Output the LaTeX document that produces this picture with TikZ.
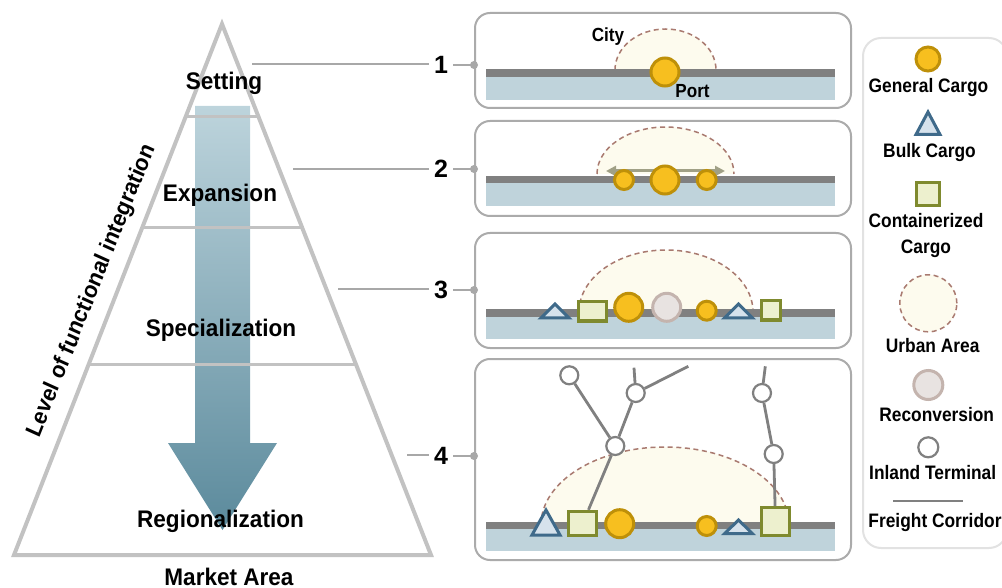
\documentclass[tikz,border=0pt]{standalone}
\usepackage{fontspec}
\setmainfont{Liberation Sans}
\usetikzlibrary{arrows.meta}
\definecolor{pyr}{HTML}{C2C2C2}
\definecolor{lead}{HTML}{A8A8A8}
\definecolor{road}{HTML}{808080}
\definecolor{water}{HTML}{BFD3DB}
\definecolor{domef}{HTML}{FDFBEE}
\definecolor{domed}{HTML}{A97A70}
\definecolor{gcf}{HTML}{F7BF1F}
\definecolor{gcd}{HTML}{BE9009}
\definecolor{tf}{HTML}{D6E2EC}
\definecolor{td}{HTML}{3F6A8A}
\definecolor{sf}{HTML}{EDF0CE}
\definecolor{sd}{HTML}{7F8A2E}
\definecolor{rf}{HTML}{E8E3E1}
\definecolor{rd}{HTML}{C4B4AE}
\definecolor{panel}{HTML}{ABABAB}
\definecolor{legendc}{HTML}{E2E2E2}
\definecolor{arrtop}{HTML}{BDD4DC}
\definecolor{arrbot}{HTML}{5B8A9C}
\tikzset{
  x=1pt,y=-1pt,
  pyrline/.style={draw=pyr,line width=4pt,line join=miter},
  tierline/.style={draw=pyr,line width=3pt},
  leader/.style={draw=lead,line width=2.4pt},
  txtbig/.style={inner sep=0pt,text=black,transform shape,xscale=.94,font=\fontsize{24}{26}\selectfont\bfseries},
  txtleg/.style={inner sep=0pt,text=black,align=center,transform shape,xscale=.89,font=\fontsize{19.5}{26}\selectfont\bfseries},
  txtsmall/.style={inner sep=0pt,text=black,transform shape,xscale=.9,font=\fontsize{19}{20}\selectfont\bfseries},
  num/.style={inner sep=0pt,minimum width=24pt,text=black,font=\fontsize{25}{26}\selectfont\bfseries},
  panelbox/.style={draw=panel,line width=2pt,rounded corners=15pt,fill=white,minimum width=376pt},
  legbox/.style={draw=legendc,line width=2pt,rounded corners=18pt,fill=white},
  waterbox/.style={fill=water,draw=none},
  roadbar/.style={fill=road,draw=none},
  dome/.style={fill=domef,draw=none},
  domeline/.style={draw=domed,line width=1.5pt,dash pattern=on 5pt off 3.6pt},
  gcargo/.style={circle,fill=gcf,draw=gcd,line width=3pt,inner sep=0pt,minimum size=#1},
  rcon/.style={circle,fill=rf,draw=rd,line width=3pt,inner sep=0pt,minimum size=#1},
  term/.style={circle,fill=white,draw=road,line width=2.2pt,inner sep=0pt,minimum size=18pt},
  ccargo/.style={fill=sf,draw=sd,line width=3pt,inner sep=0pt,rectangle},
  bcargo/.style={fill=tf,draw=td,line width=3pt,line join=miter},
  corridor/.style={draw=road,line width=2.8pt},
  spread/.style={draw=lead!80!olive,line width=3pt,{Triangle[length=10pt,width=10pt]}-{Triangle[length=10pt,width=10pt]}}
}
\newcommand{\domefill}[4]{\path[dome] ({#1-#3},{#2}) .. controls ({#1-#3},{#2-.5523*#4}) and ({#1-.5523*#3},{#2-#4}) .. ({#1},{#2-#4}) .. controls ({#1+.5523*#3},{#2-#4}) and ({#1+#3},{#2-.5523*#4}) .. ({#1+#3},{#2}) -- cycle;
\path[domeline] ({#1-#3},{#2}) .. controls ({#1-#3},{#2-.5523*#4}) and ({#1-.5523*#3},{#2-#4}) .. ({#1},{#2-#4}) .. controls ({#1+.5523*#3},{#2-#4}) and ({#1+#3},{#2-.5523*#4}) .. ({#1+#3},{#2});}
\newcommand{\tri}[3]{\path[bcargo] ({#1},{#2}) -- ({#1-14},{#3}) -- ({#1+14},{#3}) -- cycle;}
\begin{document}
\begin{tikzpicture}
\useasboundingbox (0,0) rectangle (1002,588);
% pyramid
\shade[top color=arrtop,bottom color=arrbot]
 (195,106) -- (250,106) -- (250,443) -- (277,443) -- (222.5,530) -- (168,443) -- (195,443) -- cycle;
\draw[pyrline] (222,24) -- (431,555) -- (14,555) -- cycle;
\draw[tierline] (187,117) -- (258,117);
\draw[tierline] (144,228) -- (302,228);
\draw[tierline] (90,364) -- (355,364);
\node[txtbig] (setting) at (224,83) {Setting};
\node[txtbig] (expansion) at (220,195) {Expansion};
\node[txtbig] (special) at (221,330) {Specialization};
\node[txtbig] (regional) at (220.5,521) {Regionalization};
\node[txtbig] (market) at (229,577) {Market Area};
\node[txtbig,rotate=67,xscale=.92] (level) at (92,291) {Level of functional integration};
% panels
\node[panelbox,minimum height=95pt] (p1) at (663,60.5) {};
\node[panelbox,minimum height=95pt] (p2) at (663,168.5) {};
\node[panelbox,minimum height=115pt] (p3) at (663,290.5) {};
\node[panelbox,minimum height=201pt] (p4) at (663,459.5) {};
% leaders
\coordinate (c1) at (252,64);
\coordinate (c2) at (293,169);
\coordinate (c3) at (338,289);
\coordinate (c4) at (407,455);
\node[num] (n1) at (441,65) {1};
\node[num] (n2) at (441,169) {2};
\node[num] (n3) at (441,290) {3};
\node[num] (n4) at (441,456) {4};
\draw[leader] (c1) -- (c1 -| n1.west);
\draw[leader] (c2) -- (c2 -| n2.west);
\draw[leader] (c3) -- (c3 -| n3.west);
\draw[leader] (c4) -- (c4 -| n4.west);
\foreach \i in {1,2,3,4}{
  \draw[leader] (n\i.east) -- (n\i.east -| p\i.west);
  \fill[lead] (n\i.east -| p\i.west) circle (4pt);
}
% panel 1
\domefill{665.5}{70}{50.5}{41}
\fill[waterbox] (486,76.7) rectangle (835,100);
\fill[roadbar] (486,69.5) rectangle (835,76.7);
\node[gcargo=28pt] (g11) at (665,72) {};
\node[txtsmall] (city) at (608,37) {City};
\node[txtsmall] (port) at (692.5,91) {Port};
% panel 2
\domefill{665.5}{174}{68.5}{47}
\fill[waterbox] (486,183) rectangle (835,206);
\fill[roadbar] (486,176) rectangle (835,183);
\coordinate (sa) at (606,171);
\coordinate (sb) at (725,171);
\draw[spread] (sa) -- (sb);
\node[gcargo=19pt] (g21) at (624,180) {};
\node[gcargo=28pt] (g22) at (665,180) {};
\node[gcargo=19pt] (g23) at (706.7,180) {};
% panel 3
\domefill{666}{312}{87}{62}
\fill[waterbox] (486,316.7) rectangle (835,339);
\fill[roadbar] (486,309.3) rectangle (835,316.7);
\tri{555}{304}{318}
\node[ccargo,minimum width=28pt,minimum height=19pt] (s31) at (592,311.5) {};
\node[gcargo=28pt] (g31) at (628.7,307.3) {};
\node[rcon=28pt] (r31) at (666.7,307.3) {};
\node[gcargo=19pt] (g32) at (706.7,310.7) {};
\tri{738.5}{304}{318}
\node[ccargo,minimum width=19pt,minimum height=19pt] (s32) at (771,310.5) {};
% panel 4
\domefill{665}{525}{124}{78}
\fill[waterbox] (486,529) rectangle (835,551);
\fill[roadbar] (486,522.3) rectangle (835,529);
\tri{546}{510}{535}
\node[ccargo,minimum width=28pt,minimum height=24pt] (s41) at (582.8,523.3) {};
\node[gcargo=28pt] (g41) at (619.7,523.7) {};
\node[gcargo=19pt] (g42) at (706.7,526) {};
\tri{738.5}{520}{533.7}
\node[ccargo,minimum width=27.5pt,minimum height=28pt] (s42) at (775.5,521.7) {};
\node[term] (t1) at (569.3,375.3) {};
\node[term] (t2) at (635.7,393) {};
\node[term] (t3) at (615.3,446) {};
\node[term] (t4) at (762,393) {};
\node[term] (t5) at (773.7,454) {};
\coordinate (e1) at (634,367.7);
\coordinate (e2) at (688.3,366.3);
\coordinate (e3) at (765.3,366.3);
\draw[corridor] (t1) -- (t3);
\draw[corridor] (t2) -- (t3);
\draw[corridor] (t3) -- (s41);
\draw[corridor] (t2) -- (e1);
\draw[corridor] (t2) -- (e2);
\draw[corridor] (t4) -- (e3);
\draw[corridor] (t4) -- (t5);
\draw[corridor] (t5) -- (s42);
% legend
\node[legbox,minimum width=144pt,minimum height=510pt,anchor=north west] (leg) at (862,37) {};
\node[gcargo=24pt] (lg) at (928,59) {};
\node[txtleg] (lgt) at (928.5,88) {General Cargo};
\path[bcargo] (928,112) -- (916,134.5) -- (940,134.5) -- cycle;
\node[txtleg] (lbt) at (929.5,153) {Bulk Cargo};
\node[ccargo,minimum size=23pt] (lc) at (928,193.7) {};
\node[txtleg] (lct) at (926,236) {Containerized\\Cargo};
\node[circle,fill=domef,domeline,inner sep=0pt,minimum size=57pt] (lu) at (928.3,303.3) {};
\node[txtleg] (lut) at (932.7,346) {Urban Area};
\node[rcon=29pt] (lr) at (928.3,385) {};
\node[txtleg] (lrt) at (936.7,415) {Reconversion};
\node[term,minimum size=20pt] (lt) at (928.3,447.3) {};
\node[txtleg] (ltt) at (932.7,473) {Inland Terminal};
\coordinate (lfa) at (893,501);
\coordinate (lfb) at (963,501);
\draw[corridor] (lfa) -- (lfb);
\node[txtleg] (lft) at (935,522.5) {Freight Corridor};
\end{tikzpicture}
\end{document}
